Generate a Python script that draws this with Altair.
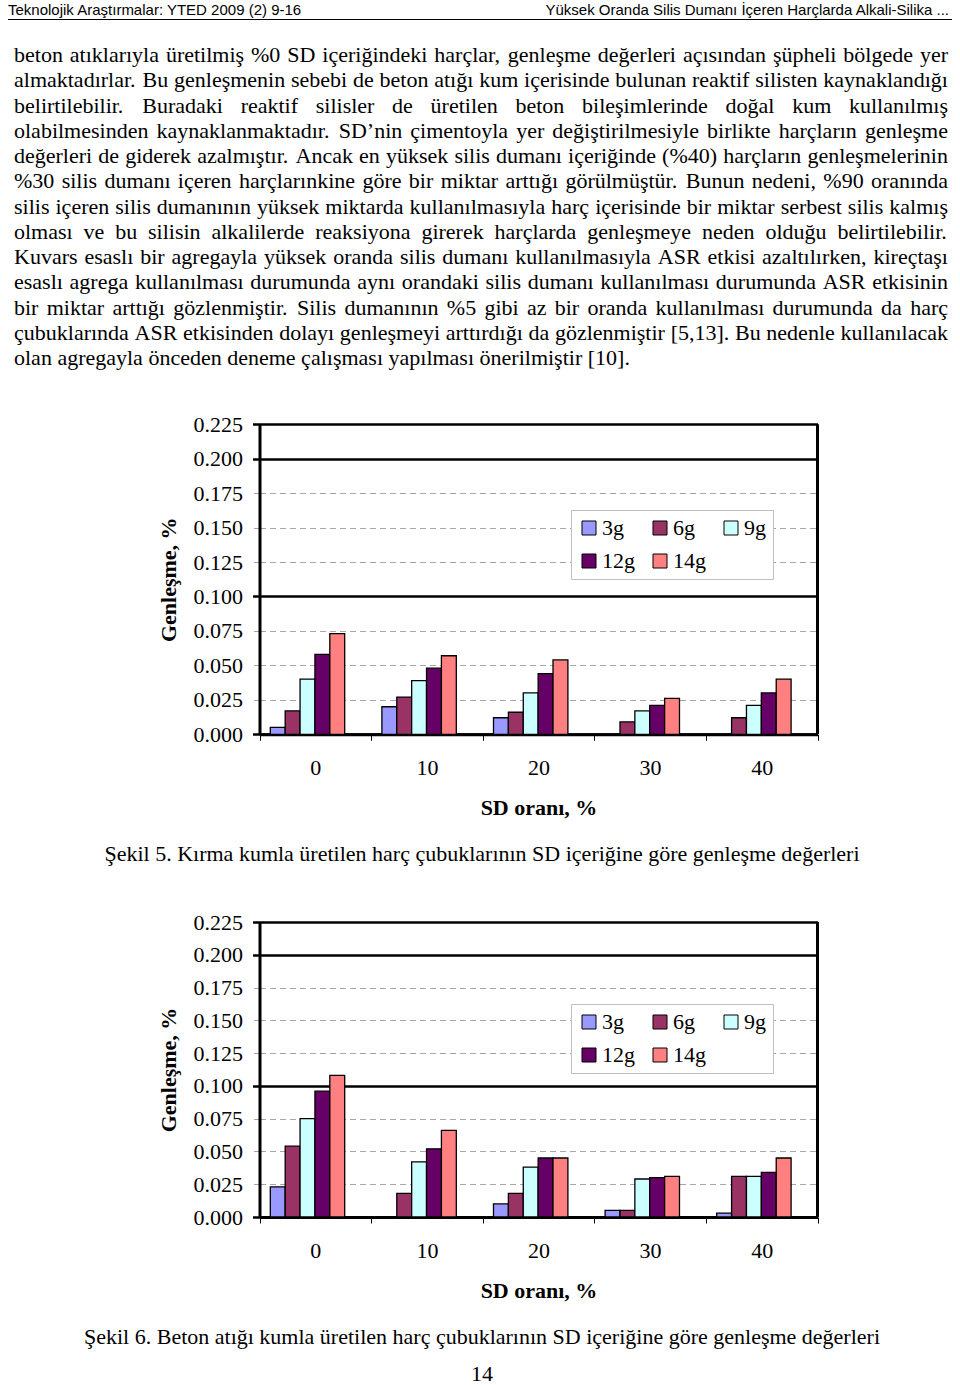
import altair as alt
import pandas as pd

# ---------------- data ----------------
SD_LEVELS = ["0", "10", "20", "30", "40"]
SIZES = ["3g", "6g", "9g", "12g", "14g"]
COLORS = ["#9999FF", "#993366", "#CCFFFF", "#660066", "#FF8080"]
Y_TICKS = [0.0, 0.025, 0.05, 0.075, 0.1, 0.125, 0.15, 0.175, 0.2, 0.225]

# Şekil 5 (Kırma kum)
fig5_3g = [0.005, 0.020, 0.012, 0.0, 0.0]
fig5_6g = [0.017, 0.027, 0.016, 0.009, 0.012]
fig5_9g = [0.040, 0.039, 0.030, 0.017, 0.021]
fig5_12g = [0.058, 0.048, 0.044, 0.021, 0.030]
fig5_14g = [0.073, 0.057, 0.054, 0.026, 0.040]

# Şekil 6 (Beton atığı kum)
fig6_3g = [0.023, 0.0, 0.010, 0.005, 0.003]
fig6_6g = [0.054, 0.018, 0.018, 0.005, 0.031]
fig6_9g = [0.075, 0.042, 0.038, 0.029, 0.031]
fig6_12g = [0.096, 0.052, 0.045, 0.030, 0.034]
fig6_14g = [0.108, 0.066, 0.045, 0.031, 0.045]

HEADER_LEFT = "Teknolojik Araştırmalar: YTED 2009 (2) 9-16"
HEADER_RIGHT = "Yüksek Oranda Silis Dumanı İçeren Harçlarda Alkali-Silika ..."

BODY_LINES = [
    "beton atıklarıyla üretilmiş %0 SD içeriğindeki harçlar, genleşme değerleri açısından şüpheli bölgede yer",
    "almaktadırlar. Bu genleşmenin sebebi de beton atığı kum içerisinde bulunan reaktif silisten kaynaklandığı",
    "belirtilebilir. Buradaki reaktif silisler de üretilen beton bileşimlerinde doğal kum kullanılmış",
    "olabilmesinden kaynaklanmaktadır. SD’nin çimentoyla yer değiştirilmesiyle birlikte harçların genleşme",
    "değerleri de giderek azalmıştır. Ancak en yüksek silis dumanı içeriğinde (%40) harçların genleşmelerinin",
    "%30 silis dumanı içeren harçlarınkine göre bir miktar arttığı görülmüştür. Bunun nedeni, %90 oranında",
    "silis içeren silis dumanının yüksek miktarda kullanılmasıyla harç içerisinde bir miktar serbest silis kalmış",
    "olması ve bu silisin alkalilerde reaksiyona girerek harçlarda genleşmeye neden olduğu belirtilebilir.",
    "Kuvars esaslı bir agregayla yüksek oranda silis dumanı kullanılmasıyla ASR etkisi azaltılırken, kireçtaşı",
    "esaslı agrega kullanılması durumunda aynı orandaki silis dumanı kullanılması durumunda ASR etkisinin",
    "bir miktar arttığı gözlenmiştir. Silis dumanının %5 gibi az bir oranda kullanılması durumunda da harç",
    "çubuklarında ASR etkisinden dolayı genleşmeyi arttırdığı da gözlenmiştir [5,13]. Bu nedenle kullanılacak",
    "olan agregayla önceden deneme çalışması yapılması önerilmiştir [10].",
]
CAPTION5 = "Şekil 5. Kırma kumla üretilen harç çubuklarının SD içeriğine göre genleşme değerleri"
CAPTION6 = "Şekil 6. Beton atığı kumla üretilen harç çubuklarının SD içeriğine göre genleşme değerleri"
PAGE_NO = "14"
Y_TITLE = "Genleşme, %"
X_TITLE = "SD oranı, %"

# ---------------- layout constants ----------------
W, H = 960, 1385
SERIF = "Liberation Serif"
SANS = "Liberation Sans"
FS = 22
X0, X1 = 259.5, 817.5            # plot area left / right (both charts)
C1_TOP, C1_BASE = 424.2, 734.3   # Şekil 5 plot area
C2_TOP, C2_BASE = 922.0, 1217.0  # Şekil 6 plot area
GROUP_L, GROUP_R = 10.8, 85.2    # bar group inside each 111.6 px category band
TEXT_L, TEXT_R = 14, 948
LINE0, LINE_H = 62.0, 25.25

# Times metrics (per 1000 em) for justification
TW = {" ": 250, "!": 333, "%": 833, "(": 333, ")": 333, ",": 250, "-": 333, ".": 250,
      ":": 278, "[": 333, "]": 333, "’": 333, "'": 180}
for d in "0123456789":
    TW[d] = 500
TW.update(dict(A=722, B=667, C=667, D=722, E=611, F=556, G=722, H=722, I=333, J=389, K=722,
               L=611, M=889, N=722, O=722, P=556, Q=722, R=667, S=556, T=611, U=722, V=722,
               W=944, X=722, Y=722, Z=611))
TW.update({"Ç": 667, "Ş": 556, "İ": 333, "Ö": 722, "Ü": 722, "Ğ": 722})
TW.update(dict(a=444, b=500, c=444, d=500, e=444, f=333, g=500, h=500, i=278, j=278, k=500,
               l=278, m=778, n=500, o=500, p=500, q=500, r=333, s=389, t=278, u=500, v=500,
               w=722, x=500, y=500, z=444))
TW.update({"ç": 444, "ğ": 500, "ı": 278, "ö": 500, "ş": 389, "ü": 500})


def text_width(s):
    return sum(TW.get(ch, 500) for ch in s) / 1000.0 * FS


word_rows = []
for i, line in enumerate(BODY_LINES):
    words = line.split(" ")
    widths = [text_width(w) for w in words]
    justify = i < len(BODY_LINES) - 1
    if justify and len(words) > 1:
        gap = (TEXT_R - TEXT_L - sum(widths)) / (len(words) - 1)
    else:
        gap = 0.25 * FS
    x = TEXT_L
    for w, wd in zip(words, widths):
        word_rows.append({"w": w, "x": x, "y": LINE0 + i * LINE_H})
        x += wd + gap
words_df = pd.DataFrame(word_rows)


def make_df(series):
    rows = []
    for size, vals in zip(SIZES, series):
        for sd, v in zip(SD_LEVELS, vals):
            rows.append({"SD": sd, "size": size, "value": v})
    return pd.DataFrame(rows)


df5 = make_df([fig5_3g, fig5_6g, fig5_9g, fig5_12g, fig5_14g])
df6 = make_df([fig6_3g, fig6_6g, fig6_9g, fig6_12g, fig6_14g])

MAJOR = "round(datum.value*1000) % 100 == 0 || round(datum.value*1000) == 225"


def cond(a, b):
    return {"condition": {"test": MAJOR, "value": a}, "value": b}


def bar_chart(df, top, base, legend_y):
    return alt.Chart(df).transform_filter("datum.value > 0").mark_bar(
        stroke="black", strokeWidth=1.3
    ).encode(
        x=alt.X("SD:N", sort=SD_LEVELS,
                scale=alt.Scale(domain=SD_LEVELS, range=[X0, X1], paddingInner=0, paddingOuter=0),
                axis=alt.Axis(orient="bottom", offset=base - H, title=X_TITLE,
                              titleFont=SERIF, titleFontSize=FS, titleFontWeight="bold",
                              titleColor="black", titlePadding=19,
                              labelFont=SERIF, labelFontSize=FS, labelColor="black",
                              labelAngle=0, labelPadding=17, tickBand="extent", tickSize=6,
                              tickColor="black", tickWidth=1, domainColor="black",
                              domainWidth=3, grid=False)),
        xOffset=alt.XOffset("size:N", sort=SIZES,
                            scale=alt.Scale(domain=SIZES, range=[GROUP_L, GROUP_R],
                                            paddingInner=0, paddingOuter=0)),
        y=alt.Y("value:Q",
                scale=alt.Scale(domain=[0, 0.225], range=[base, top], nice=False, zero=True),
                axis=alt.Axis(orient="left", offset=-X0, values=Y_TICKS, format=".3f",
                              title=Y_TITLE, titleFont=SERIF, titleFontSize=FS,
                              titleFontWeight="bold", titleColor="black", titlePadding=13,
                              labelFont=SERIF, labelFontSize=FS, labelColor="black",
                              labelPadding=10, tickSize=7,
                              tickColor=cond("black", "#a6a6a6"),
                              tickWidth=cond(2.5, 1),
                              tickDash=cond([], [6, 4]),
                              grid=True,
                              gridColor=cond("black", "#a6a6a6"),
                              gridWidth=cond(2.5, 1),
                              gridDash=cond([], [6, 4]),
                              domainColor="black", domainWidth=3)),
        color=alt.Color("size:N", sort=SIZES,
                        scale=alt.Scale(domain=SIZES, range=COLORS),
                        legend=alt.Legend(orient="none", legendX=571, legendY=legend_y,
                                          columns=3, direction="horizontal", title=None,
                                          symbolType="square", symbolSize=196,
                                          symbolStrokeColor="black", symbolStrokeWidth=1,
                                          symbolOpacity=1,
                                          labelFont=SERIF, labelFontSize=FS, labelColor="black",
                                          labelOffset=2, columnPadding=14, rowPadding=11,
                                          padding=7, strokeColor="#bfbfbf", fillColor="white",
                                          gridAlign="each")),
    )


def frame_right(top, base):
    return alt.Chart(pd.DataFrame({"k": [0]})).mark_rule(color="black", strokeWidth=3).encode(
        x=alt.value(X1), y=alt.value(top), y2=alt.value(base))


one = pd.DataFrame({"k": [0]})

header_left = alt.Chart(one).mark_text(align="left", baseline="alphabetic", font=SANS,
                                       fontSize=15, color="black").encode(
    x=alt.value(8), y=alt.value(15), text=alt.value(HEADER_LEFT))
header_right = alt.Chart(one).mark_text(align="right", baseline="alphabetic", font=SANS,
                                        fontSize=15, color="black").encode(
    x=alt.value(949), y=alt.value(15), text=alt.value(HEADER_RIGHT))
header_rule = alt.Chart(one).mark_rule(color="black", strokeWidth=1).encode(
    x=alt.value(8), x2=alt.value(952), y=alt.value(19.5))

body = alt.Chart(words_df).mark_text(align="left", baseline="alphabetic", font=SERIF,
                                     fontSize=FS, color="black").encode(
    x=alt.X("x:Q", scale=None, axis=None),
    y=alt.Y("y:Q", scale=None, axis=None),
    text="w:N")


def centered_text(txt, y):
    return alt.Chart(one).mark_text(align="center", baseline="alphabetic", font=SERIF,
                                    fontSize=FS, color="black").encode(
        x=alt.value(482), y=alt.value(y), text=alt.value(txt))


chart = alt.layer(
    header_left, header_right, header_rule, body,
    bar_chart(df5, C1_TOP, C1_BASE, 510), frame_right(C1_TOP, C1_BASE),
    centered_text(CAPTION5, 861),
    bar_chart(df6, C2_TOP, C2_BASE, 1004), frame_right(C2_TOP, C2_BASE),
    centered_text(CAPTION6, 1344),
    centered_text(PAGE_NO, 1381),
).resolve_scale(
    x="independent", y="independent", xOffset="independent", color="independent"
).resolve_axis(
    x="independent", y="independent"
).resolve_legend(
    color="independent"
).properties(
    width=W, height=H, padding=0, autosize=alt.AutoSizeParams(type="none"),
    background="white"
).configure_view(stroke=None)

chart.save("out.html", embed_options={"renderer": "svg", "actions": False})
